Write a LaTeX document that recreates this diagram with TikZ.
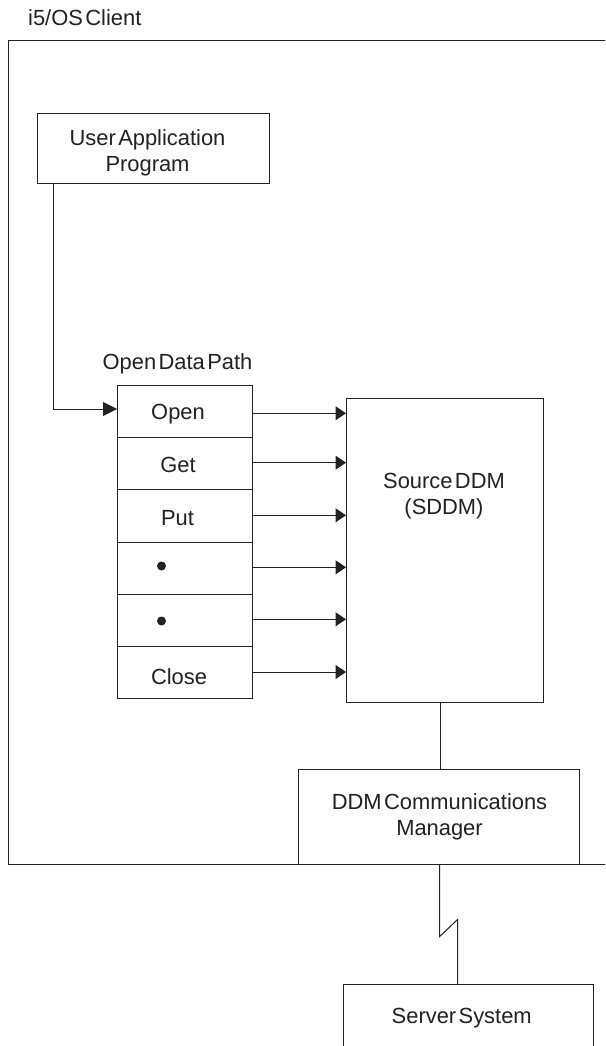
\documentclass[tikz,border=0pt]{standalone}
\usepackage{fontspec}
\setmainfont[WordSpace=0.4]{Liberation Sans}
\usetikzlibrary{arrows.meta}
\definecolor{ink}{HTML}{222222}
\tikzset{
  x=1pt,y=-1pt,
  box/.style={draw=ink,line width=1pt,fill=white,inner sep=0pt,outer sep=0pt,anchor=north west},
  lab/.style={text=ink,inner sep=0pt,align=center,font=\fontsize{21.9}{26}\selectfont},
  link/.style={draw=ink,line width=1pt},
  feed/.style={link,-{Triangle[length=10.5pt,width=14pt]}},
  inlet/.style={link,-{Triangle[length=14pt,width=14pt]}},
  spot/.style={circle,fill=ink,inner sep=0pt,minimum size=9pt}
}
\begin{document}
\begin{tikzpicture}
\useasboundingbox (0,0) rectangle (605,1046);
\clip (0,0) rectangle (605,1046);
% client frame (open on the right)
\coordinate (fNE) at (610,41);
\coordinate (fNW) at (8.5,41);
\coordinate (fSW) at (8.5,864.7);
\coordinate (fSE) at (610,864.7);
\draw[link] (fNE) -- (fNW) -- (fSW) -- (fSE);
\node[lab,anchor=west] (client) at (28,18) {i5/OS Client};
% user application
\node[box,minimum width=232pt,minimum height=69pt] (app) at (37,114) {};
\node[lab] (apptext) at (147.5,152.5) {User Application\\Program};
% open data path
\node[lab] (odptext) at (177.5,364) {Open Data Path};
\node[box,minimum width=135.5pt,minimum height=52pt] (open)  at (117,385.3) {};
\node[box,minimum width=135.5pt,minimum height=52.5pt] (get) at (117,437.3) {};
\node[box,minimum width=135.5pt,minimum height=52.2pt] (put) at (117,489.8) {};
\node[box,minimum width=135.5pt,minimum height=52.3pt] (d1)  at (117,542) {};
\node[box,minimum width=135.5pt,minimum height=52pt] (d2)    at (117,594.3) {};
\node[box,minimum width=135.5pt,minimum height=52.2pt] (close) at (117,646.3) {};
\node[lab] (opentext) at (178,414) {Open};
\node[lab] (gettext) at (178,465) {Get};
\node[lab] (puttext) at (177.5,518) {Put};
\node[spot] (s1) at (161.5,566) {};
\node[spot] (s2) at (161.5,621) {};
\node[lab] (closetext) at (179,677) {Close};
% source DDM
\node[box,minimum width=197.5pt,minimum height=304.7pt] (sddm) at (346,398) {};
\node[lab] (sddmtext) at (444,496) {Source DDM\\(SDDM)};
% communications manager
\node[box,minimum width=281pt,minimum height=95.7pt] (mgr) at (298.5,769) {};
\node[lab] (mgrtext) at (439.5,817) {DDM Communications\\Manager};
% server system (runs off the page)
\node[box,minimum width=250.7pt,minimum height=90pt] (server) at (343,984) {};
\node[lab] (servertext) at (461.7,1018) {Server System};
% connectors
\coordinate (bend) at (53,409);
\draw[inlet] (app.south west -| bend) -- (bend) -- (open.west |- bend);
\foreach \r/\y in {open/413.3,get/462.7,put/515.3,d1/567.3,d2/619.3,close/672}{
  \coordinate (lvl) at (300,\y);
  \draw[feed] (\r.east |- lvl) -- (sddm.west |- lvl);
}
\coordinate (drop) at (440.5,750);
\draw[link] (sddm.south -| drop) -- (mgr.north -| drop);
\coordinate (za) at (439.5,936.7);
\coordinate (zb) at (457.7,919.3);
\draw[link] (mgr.south -| za) -- (za) -- (zb) -- (server.north -| zb);
\end{tikzpicture}
\end{document}
